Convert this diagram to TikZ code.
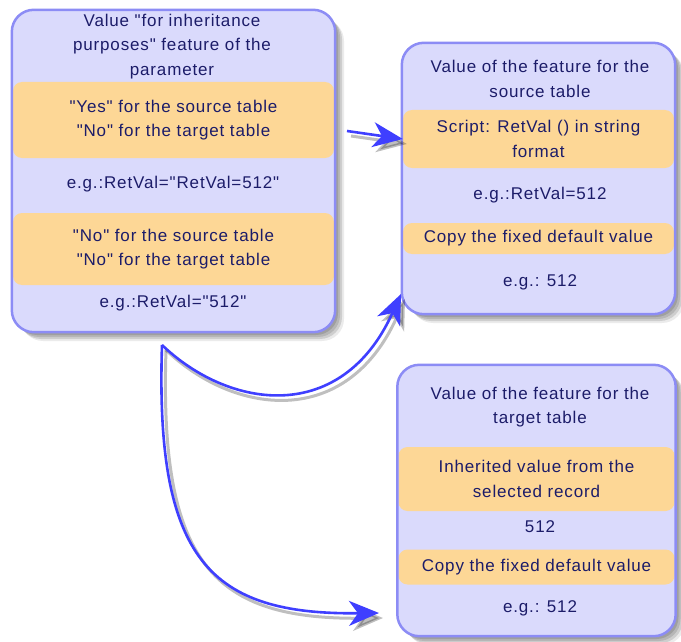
\documentclass[tikz,border=0pt]{standalone}
\usepackage{fontspec}
\newfontfamily\diafont{Liberation Sans}[LetterSpace=5.0]
\usetikzlibrary{arrows.meta}
\definecolor{boxfill}{RGB}{218,218,252}
\definecolor{boxdraw}{RGB}{140,140,245}
\definecolor{bandfill}{RGB}{253,215,150}
\definecolor{txtcol}{RGB}{28,28,105}
\definecolor{arrcol}{RGB}{63,63,255}
\begin{document}
\begin{tikzpicture}[x=1pt,y=-1pt,
  boxbg/.style={rounded corners=22pt, fill=boxfill, draw=none, inner sep=0pt,
    preaction={fill=black, opacity=0.12, transform canvas={shift={(3pt,-3pt)}}},
    preaction={fill=black, opacity=0.12, transform canvas={shift={(5pt,-5pt)}}},
    preaction={fill=black, opacity=0.12, transform canvas={shift={(7pt,-7pt)}}},
    preaction={fill=black, opacity=0.08, transform canvas={shift={(9pt,-9pt)}}}},
  boxline/.style={rounded corners=22pt, draw=boxdraw, line width=2.5pt},
  band/.style={rounded corners=9pt, fill=bandfill, draw=none, inner sep=0pt, align=center,
    text=txtcol, font=\diafont\fontsize{17pt}{24.5pt}\selectfont},
  txt/.style={text=txtcol, align=center, inner sep=0pt, font=\diafont\fontsize{17pt}{24.5pt}\selectfont},
  arr/.style={draw=arrcol, line width=2.6pt, -{Stealth[length=30pt,width=25pt,inset=9pt]}},
  arrsh/.style={draw=black, opacity=0.25, line width=3pt, -{Stealth[length=30pt,width=25pt,inset=9pt]},
    transform canvas={shift={(4pt,-5pt)}}}
]
\useasboundingbox (0,0) rectangle (681,642);

% ---------- boxes ----------
\node[boxbg, minimum width=323pt, minimum height=322pt] (L) at (173.5,171) {};
\node[boxbg, minimum width=273pt, minimum height=271pt] (S) at (538.5,178.5) {};
\node[boxbg, minimum width=278pt, minimum height=271pt] (T) at (536.5,500.5) {};

% ---------- left box ----------
\node[txt] (Lt) at (172,46.5) {Value "for inheritance\\purposes" feature of the\\parameter};
\node[band, minimum width=321pt, minimum height=76pt] (Lb1) at (173.5,120)
  {"Yes" for the source table\\"No" for the target table};
\node[txt] (Le1) at (173,184) {e.g.:RetVal="RetVal=512"};
\node[band, minimum width=321pt, minimum height=72pt] (Lb2) at (173.5,249)
  {"No" for the source table\\"No" for the target table};
\node[txt] (Le2) at (173,303) {e.g.:RetVal="512"};
\draw[boxline] (L.south west) rectangle (L.north east);

% ---------- source box ----------
\node[txt] (St) at (540,79) {Value of the feature for the\\source table};
\node[band, minimum width=271pt, minimum height=58pt] (Sb1) at (538.5,139)
  {Script: RetVal () in string\\format};
\node[txt] (Se1) at (540,195) {e.g.:RetVal=512};
\node[band, minimum width=271pt, minimum height=31pt] (Sb2) at (538.5,238.5)
  {Copy the fixed default value};
\node[txt] (Se2) at (540,282) {e.g.: 512};
\draw[boxline] (S.south west) rectangle (S.north east);

% ---------- target box ----------
\node[txt] (Tt) at (540,407) {Value of the feature for the\\target table};
\node[band, minimum width=276pt, minimum height=64pt] (Tb1) at (536.5,479)
  {Inherited value from the\\selected record};
\node[txt] (Te1) at (540,527) {512};
\node[band, minimum width=276pt, minimum height=35pt] (Tb2) at (536.5,567)
  {Copy the fixed default value};
\node[txt] (Te2) at (540,608) {e.g.: 512};
\draw[boxline] (T.south west) rectangle (T.north east);

% ---------- connectors ----------
\coordinate (a1) at (347,131);
\coordinate (v) at (162,345);
\coordinate (t2) at (401,294);
\coordinate (t3) at (379,613);

\draw[arrsh] (a1) -- (Sb1.west);
\draw[arrsh] (v) .. controls (230,410) and (342,425) .. (t2);
\draw[arrsh] (v) .. controls (155,560) and (210,615) .. (t3);

\draw[arr] (a1) -- (Sb1.west);
\draw[arr] (v) .. controls (230,410) and (342,425) .. (t2);
\draw[arr] (v) .. controls (155,560) and (210,615) .. (t3);
\end{tikzpicture}
\end{document}
